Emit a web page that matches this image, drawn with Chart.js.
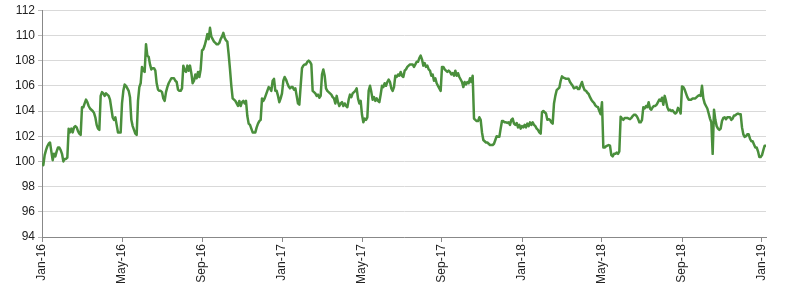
<!DOCTYPE html>
<html>
<head>
<meta charset="utf-8">
<script src="https://cdn.jsdelivr.net/npm/chart.js@4"></script>
<style>
  html, body { margin: 0; padding: 0; background: #fff; }
  #wrap { width: 800px; height: 292px; position: relative; }
</style>
</head>
<body>
<div id="wrap"><canvas id="myChart"></canvas></div>
<script>
// Index level, sampled about every 2 days from Jan-16 (15 samples per month)
const pointsPerMonth = 15;
const values = [
  99.9, 99.7, 100.5, 100.9, 101.2, 101.4, 101.5, 100.8, 100.1, 100.6,
  100.4, 100.8, 101.1, 101.1, 100.9, 100.6, 100.0, 100.2, 100.2, 100.3,
  102.6, 102.3, 102.6, 102.3, 102.7, 102.8, 102.7, 102.4, 102.2, 102.1,
  104.3, 104.3, 104.6, 104.9, 104.7, 104.4, 104.2, 104.1, 104.0, 103.85,
  103.5, 102.9, 102.6, 102.5, 105.2, 105.5, 105.4, 105.2, 105.4, 105.3,
  105.2, 104.9, 104.2, 103.5, 103.3, 103.5, 102.9, 102.3, 102.3, 102.3,
  104.6, 105.6, 106.1, 106.0, 105.8, 105.6, 105.1, 103.3, 102.8, 102.5,
  102.2, 102.1, 104.8, 105.9, 106.2, 107.5, 107.2, 107.1, 109.3, 108.4,
  108.3,
  107.7, 107.3, 107.4, 107.4, 107.2, 106.2, 105.7, 105.6, 105.6, 105.5,
  105.0, 104.8, 105.5, 105.9, 106.2, 106.4, 106.6, 106.6, 106.6, 106.4,
  106.3, 105.7, 105.6, 105.6, 105.8, 107.6, 107.2, 107.1, 107.6, 107.2,
  107.6, 107.0, 106.2, 106.4, 106.9, 106.6, 107.1, 106.7, 107.3, 108.8,
  108.9, 109.2, 109.6, 110.1, 109.7, 110.6, 109.9, 109.7, 109.5, 109.4,
  109.3, 109.3, 109.4, 109.7, 109.9, 110.2, 109.8, 109.6, 109.5, 108.5,
  107.3, 106.0, 105.0, 104.9, 104.8, 104.6, 104.4, 104.8, 104.4, 104.7,
  104.8, 104.6, 104.8, 103.6, 103.0, 102.9, 102.6, 102.3, 102.3, 102.3,
  102.7, 103.0, 103.2, 103.3, 105.0, 104.8, 105.0, 105.3, 105.6, 105.9,
  105.8, 105.6, 106.4, 106.55, 105.6, 105.6, 105.2, 104.7, 105.0, 105.4,
  106.4, 106.7, 106.5, 106.2, 105.95, 105.8, 105.9, 105.9, 105.7, 105.8,
  105.2, 104.6, 104.5, 106.0, 107.4, 107.6, 107.7, 107.7, 107.9, 108.0,
  107.9, 107.7, 105.6, 105.5, 105.4, 105.2, 105.3, 105.05, 105.2, 106.9,
  107.3, 106.8, 105.8, 105.6, 105.5, 105.4, 105.3, 105.1, 105.0, 104.6,
  105.2, 104.7, 104.4, 104.6, 104.7, 104.4, 104.6, 104.4, 104.3, 104.9,
  105.3, 105.1, 105.4, 105.5, 105.6, 105.8, 105.0, 104.6, 104.8, 103.7,
  103.1, 103.4, 103.3, 103.5, 105.6, 106.0, 105.5, 104.9, 105.1, 104.8,
  105.0, 104.8, 104.7, 105.3, 106.0, 105.9, 106.2, 106.0, 106.3, 106.5,
  106.3, 105.8, 105.6, 105.9, 106.8, 106.7, 106.9, 106.8, 107.1, 106.8,
  106.7, 107.2, 107.3, 107.5, 107.6, 107.7, 107.7, 107.7, 107.5, 107.7,
  107.9, 107.9, 108.2, 108.4, 108.1, 107.6, 107.8, 107.5, 107.6, 107.3,
  107.2, 106.8, 106.9, 106.4, 106.6, 106.2, 106.0, 105.8, 105.6, 107.5,
  107.5, 107.3, 107.2, 107.1, 107.2, 107.1, 106.9, 107.0, 106.8, 107.2,
  106.8, 107.0, 106.7, 106.5, 106.3, 105.9, 106.3, 106.1, 106.3, 106.2,
  106.6, 106.3, 106.8, 103.4, 103.3, 103.2, 103.2, 103.5, 103.3, 102.3,
  101.7, 101.6, 101.5, 101.5, 101.4, 101.3, 101.3, 101.3, 101.4, 101.7,
  102.0, 101.95, 101.95, 102.6, 103.2, 103.2, 103.1, 103.1, 103.05, 103.1,
  102.9, 103.3, 103.4, 103.0, 102.9, 103.05, 102.7, 102.9, 102.6, 102.8,
  102.7, 102.9, 102.7, 103.0, 102.8, 103.1, 102.9, 103.1, 102.9, 102.8,
  102.6, 102.5, 102.3, 102.2, 103.9, 104.0, 103.9, 103.8, 103.3, 103.35,
  103.3, 103.1, 103.0, 104.6, 105.2, 105.65, 105.75, 105.85, 106.4, 106.75,
  106.65, 106.6, 106.55, 106.55, 106.55, 106.3, 106.15, 106.0, 105.8, 105.85,
  105.9, 105.75, 105.75, 106.05, 106.3, 105.9, 105.65, 105.6, 105.45, 105.35,
  105.1, 104.9, 104.75, 104.65, 104.45, 104.35, 104.3, 104.0, 103.75, 104.7,
  101.1, 101.1, 101.2, 101.25, 101.3, 101.25, 100.5, 100.4, 100.6, 100.6,
  100.7, 100.6, 100.8, 103.55, 103.4, 103.3, 103.45, 103.45, 103.45, 103.4,
  103.35, 103.45, 103.6, 103.7, 103.7, 103.6, 103.4, 103.1,
  103.1, 103.3, 104.3, 104.2, 104.4, 104.3, 104.7, 104.2, 104.1, 104.3,
  104.4, 104.4, 104.5, 104.7, 104.9, 104.8, 105.05, 104.5, 105.2, 104.8,
  104.3, 104.05, 104.1, 104.0, 104.05, 103.9, 103.8, 103.9, 104.25, 104.1,
  103.8, 105.95, 105.9, 105.7, 105.4, 105.1, 104.9, 104.9, 104.9, 105.0,
  105.0, 105.0, 105.1, 105.2, 105.25, 105.2, 106.0, 105.0, 104.6, 104.4,
  104.2, 103.8, 103.4, 103.1, 100.6, 104.1, 103.3, 102.8, 102.6, 102.5,
  102.6, 103.2, 103.45, 103.5, 103.35, 103.5, 103.5, 103.5, 103.3, 103.4,
  103.65, 103.65, 103.75, 103.8, 103.75, 103.75, 102.7, 102.15, 101.95, 102.0,
  102.15, 102.15, 101.8, 101.6, 101.6, 101.35, 101.1, 101.1, 100.8, 100.35,
  100.35, 100.5, 100.9, 101.25, 101.25
];

// x axis ticks (months since Jan-16)
const tickMonths = [0, 4, 8, 12, 16, 20, 24, 28, 32, 36];
const tickLabels = ["Jan-16", "May-16", "Sep-16", "Jan-17", "May-17",
  "Sep-17", "Jan-18", "May-18", "Sep-18", "Jan-19"];

// y axis
const yMin = 94;
const yMax = 112;
const yStep = 2;

Chart.defaults.font.family = '"Liberation Sans", Arial, sans-serif';
Chart.defaults.font.size = 12;
Chart.defaults.color = "#222";

const ctx = document.getElementById("myChart");

new Chart(ctx, {
  type: "line",
  data: {
    datasets: [
      {
        data: values.map((v, i) => ({ x: i / pointsPerMonth, y: v })),
        borderColor: "#4a8f3c",
        borderWidth: 2.5,
        borderJoinStyle: "round",
        pointRadius: 0,
        tension: 0,
        fill: false,
      },
    ],
  },
  options: {
    responsive: true,
    maintainAspectRatio: false,
    animation: false,
    layout: { padding: { left: 0, right: 34, top: 9, bottom: 0 } },
    plugins: {
      legend: { display: false },
      tooltip: { enabled: false },
    },
    scales: {
      x: {
        type: "linear",
        min: 0,
        max: 36.2,
        afterBuildTicks: (axis) => {
          axis.ticks = tickMonths.map((m) => ({ value: m }));
        },
        afterFit: (scale) => {
          scale.height = 55;
        },
        ticks: {
          autoSkip: false,
          minRotation: 90,
          maxRotation: 90,
          padding: 2,
          callback: (v) => tickLabels[tickMonths.indexOf(v)],
        },
        grid: {
          drawOnChartArea: false,
          drawTicks: true,
          tickLength: 5,
          tickColor: "#888",
        },
        border: { color: "#888", width: 1 },
      },
      y: {
        min: yMin,
        max: yMax,
        afterFit: (scale) => {
          scale.width = 42;
        },
        ticks: { stepSize: yStep, padding: 3 },
        grid: {
          color: "#d9d9d9",
          tickLength: 4,
          tickColor: "#bbb",
        },
        border: { color: "#888", width: 1 },
      },
    },
  },
});
</script>
</body>
</html>
